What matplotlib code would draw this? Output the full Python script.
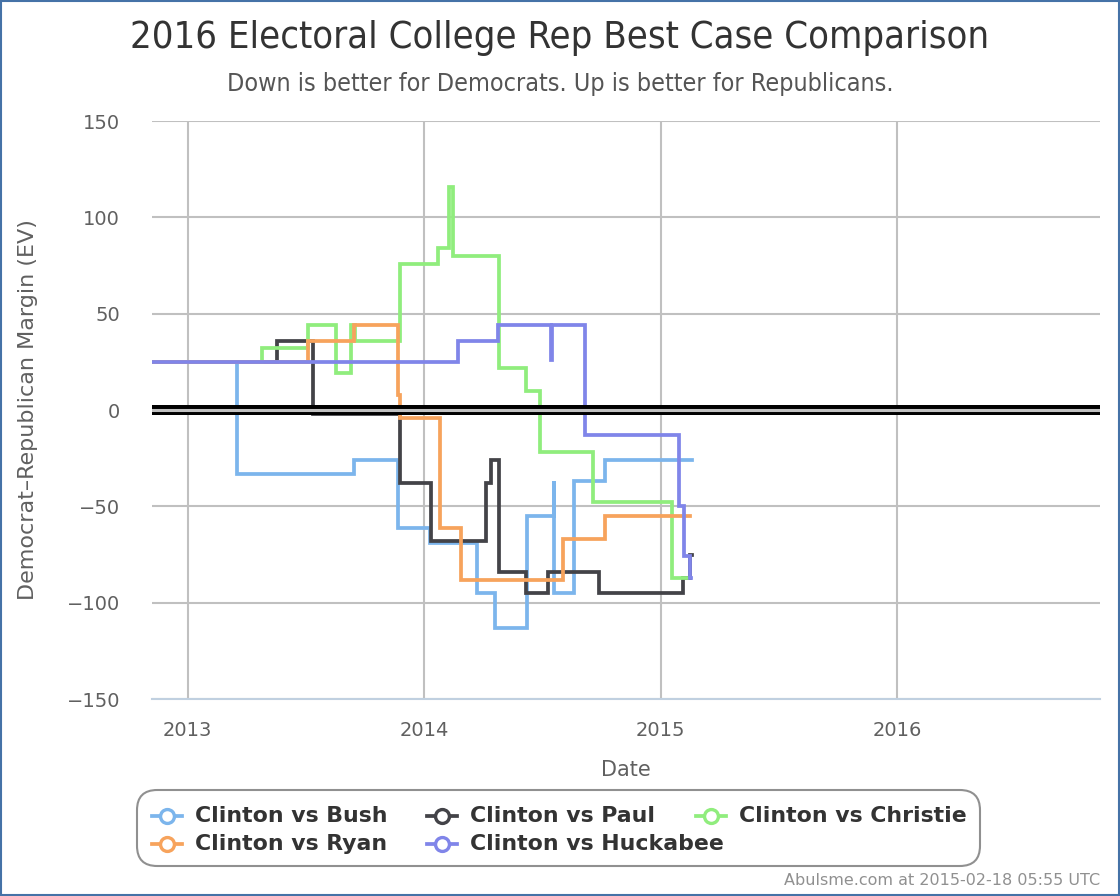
import matplotlib
matplotlib.use("Agg")
import matplotlib.pyplot as plt
import matplotlib.dates as mdates
from matplotlib.lines import Line2D
from matplotlib.patches import Rectangle, FancyBboxPatch
import datetime as dt

# step data (EV margin, Rep positive)
bush_dates = ["2012-11-07", "2013-03-18", "2013-09-15", "2013-11-22", "2014-01-10", "2014-03-24",
              "2014-04-20", "2014-06-08", "2014-07-20", "2014-07-21", "2014-08-20", "2014-10-07", "2015-02-18"]
bush_ev = [25, -33, -26, -61, -69, -95, -113, -55, -37, -95, -37, -26, -26]

paul_dates = ["2012-11-07", "2013-05-19", "2013-07-14", "2013-11-24", "2014-01-12", "2014-04-06",
              "2014-04-14", "2014-04-27", "2014-06-07", "2014-07-11", "2014-09-28", "2015-02-04",
              "2015-02-15", "2015-02-18"]
paul_ev = [25, 36, -2, -38, -68, -38, -26, -84, -95, -84, -95, -87, -75, -75]

christie_dates = ["2012-11-07", "2013-04-25", "2013-07-06", "2013-08-18", "2013-09-10", "2013-09-16",
                  "2013-11-25", "2014-01-23", "2014-02-09", "2014-02-14", "2014-04-27", "2014-06-07",
                  "2014-06-29", "2014-09-18", "2015-01-18", "2015-02-10"]
christie_ev = [25, 32, 44, 19, 44, 36, 76, 84, 116, 80, 22, 10, -22, -48, -87, -87]

ryan_dates = ["2012-11-07", "2013-07-06", "2013-09-15", "2013-11-22", "2013-11-25", "2014-01-26",
              "2014-02-27", "2014-08-03", "2014-10-07", "2015-02-16"]
ryan_ev = [25, 36, 44, 8, -4, -61, -88, -67, -55, -55]

huck_dates = ["2012-11-07", "2014-02-22", "2014-04-25", "2014-07-16", "2014-07-18", "2014-09-06",
              "2015-01-29", "2015-02-06", "2015-02-15", "2015-02-17"]
huck_ev = [25, 36, 44, 26, 44, -13, -50, -76, -87, -87]

names = ["Clinton vs Bush", "Clinton vs Paul", "Clinton vs Christie", "Clinton vs Ryan", "Clinton vs Huckabee"]
colors = ["#7cb5ec", "#434348", "#90ed7d", "#f7a35c", "#8085e9"]
series = [(bush_dates, bush_ev), (paul_dates, paul_ev), (christie_dates, christie_ev),
          (ryan_dates, ryan_ev), (huck_dates, huck_ev)]

year_ticks = [2013, 2014, 2015, 2016]
y_ticks = [-150, -100, -50, 0, 50, 100, 150]

W, H = 1120, 896


def todate(s):
  return dt.datetime.strptime(s, "%Y-%m-%d")


def fx(px):
  return px / W


def fy(py):
  return 1 - py / H


fig = plt.figure(figsize=(11.2, 8.96), dpi=100)
ax = fig.add_axes([fx(152), fy(699), (1100-152)/W, (699-121)/H])

for i in range(len(series)):
  d, v = series[i]
  ax.plot([todate(s) for s in d], v, drawstyle="steps-post", color=colors[i], lw=2.7,
          solid_joinstyle="miter", zorder=3+i)

ax.axhline(0, color="black", lw=7.2, zorder=10)
ax.axhline(0, color="#c0c0c0", lw=2.2, zorder=11)

ax.set_xlim(todate("2012-11-07"), todate("2016-11-09"))
ax.set_ylim(-150, 150)
ax.set_xticks([dt.datetime(y, 1, 1) for y in year_ticks])
ax.xaxis.set_major_formatter(mdates.DateFormatter("%Y"))
ax.set_yticks(y_ticks)
ax.set_yticklabels([str(t).replace("-", "\u2212") for t in y_ticks])
ax.grid(True, color="#c0c0c0", lw=1.5)
ax.set_axisbelow(True)
for s in ["top", "right", "left"]:
  ax.spines[s].set_visible(False)
ax.spines["bottom"].set_color("#c0d0e0")
ax.spines["bottom"].set_linewidth(1.5)
ax.spines["bottom"].set_zorder(12)
ax.tick_params(axis="both", length=0, labelsize=14, labelcolor="#606060")
ax.tick_params(axis="y", pad=23)
ax.tick_params(axis="x", pad=16)
ax.set_xlabel("Date", fontsize=15, color="#606060", labelpad=14)
ax.set_ylabel("Democrat\u2013Republican Margin (EV)", fontsize=16, color="#606060")
ax.yaxis.set_label_coords((38-152)/948, 0.5)

fig.text(0.5, fy(38), "2016 Electoral College Rep Best Case Comparison", ha="center", va="center",
         fontsize=27.4, color="#333333", family="DejaVu Sans", stretch="condensed")
fig.text(0.5, fy(84), "Down is better for Democrats. Up is better for Republicans.", ha="center",
         va="center", fontsize=18, color="#555555", family="DejaVu Sans", stretch="condensed")
fig.text(fx(1100), fy(880), "Abulsme.com at 2015-02-18 05:55 UTC", ha="right", va="center",
         fontsize=11.5, color="#909090")

# legend laid out like the original: items flow in rows with fixed slots
box = FancyBboxPatch((fx(137), fy(866)), fx(980) - fx(137), fy(790) - fy(866),
                     boxstyle="round,pad=0,rounding_size=0.018", transform=fig.transFigure,
                     facecolor="white", edgecolor="#909090", lw=1.5, mutation_aspect=W/H)
fig.patches.append(box)
slot_x = [152, 427, 696]
row_y = [816, 844]
for i in range(len(names)):
  sx = slot_x[i % 3]
  sy = row_y[i // 3]
  fig.add_artist(Line2D([fx(sx), fx(sx + 30)], [fy(sy), fy(sy)], transform=fig.transFigure,
                        color=colors[i], lw=2.7))
  fig.add_artist(Line2D([fx(sx + 15)], [fy(sy)], transform=fig.transFigure, marker="o",
                        markersize=10, markerfacecolor="white", markeredgecolor=colors[i],
                        markeredgewidth=2.4))
  fig.text(fx(sx + 43), fy(sy), names[i], ha="left", va="center", fontsize=15.8,
           fontweight="bold", color="#333333")

fig.patches.append(Rectangle((0.001, 0.001), 0.998, 0.998, transform=fig.transFigure, fill=False,
                             edgecolor="#4572a7", lw=1.5))

fig.savefig("out.png", dpi=100)
